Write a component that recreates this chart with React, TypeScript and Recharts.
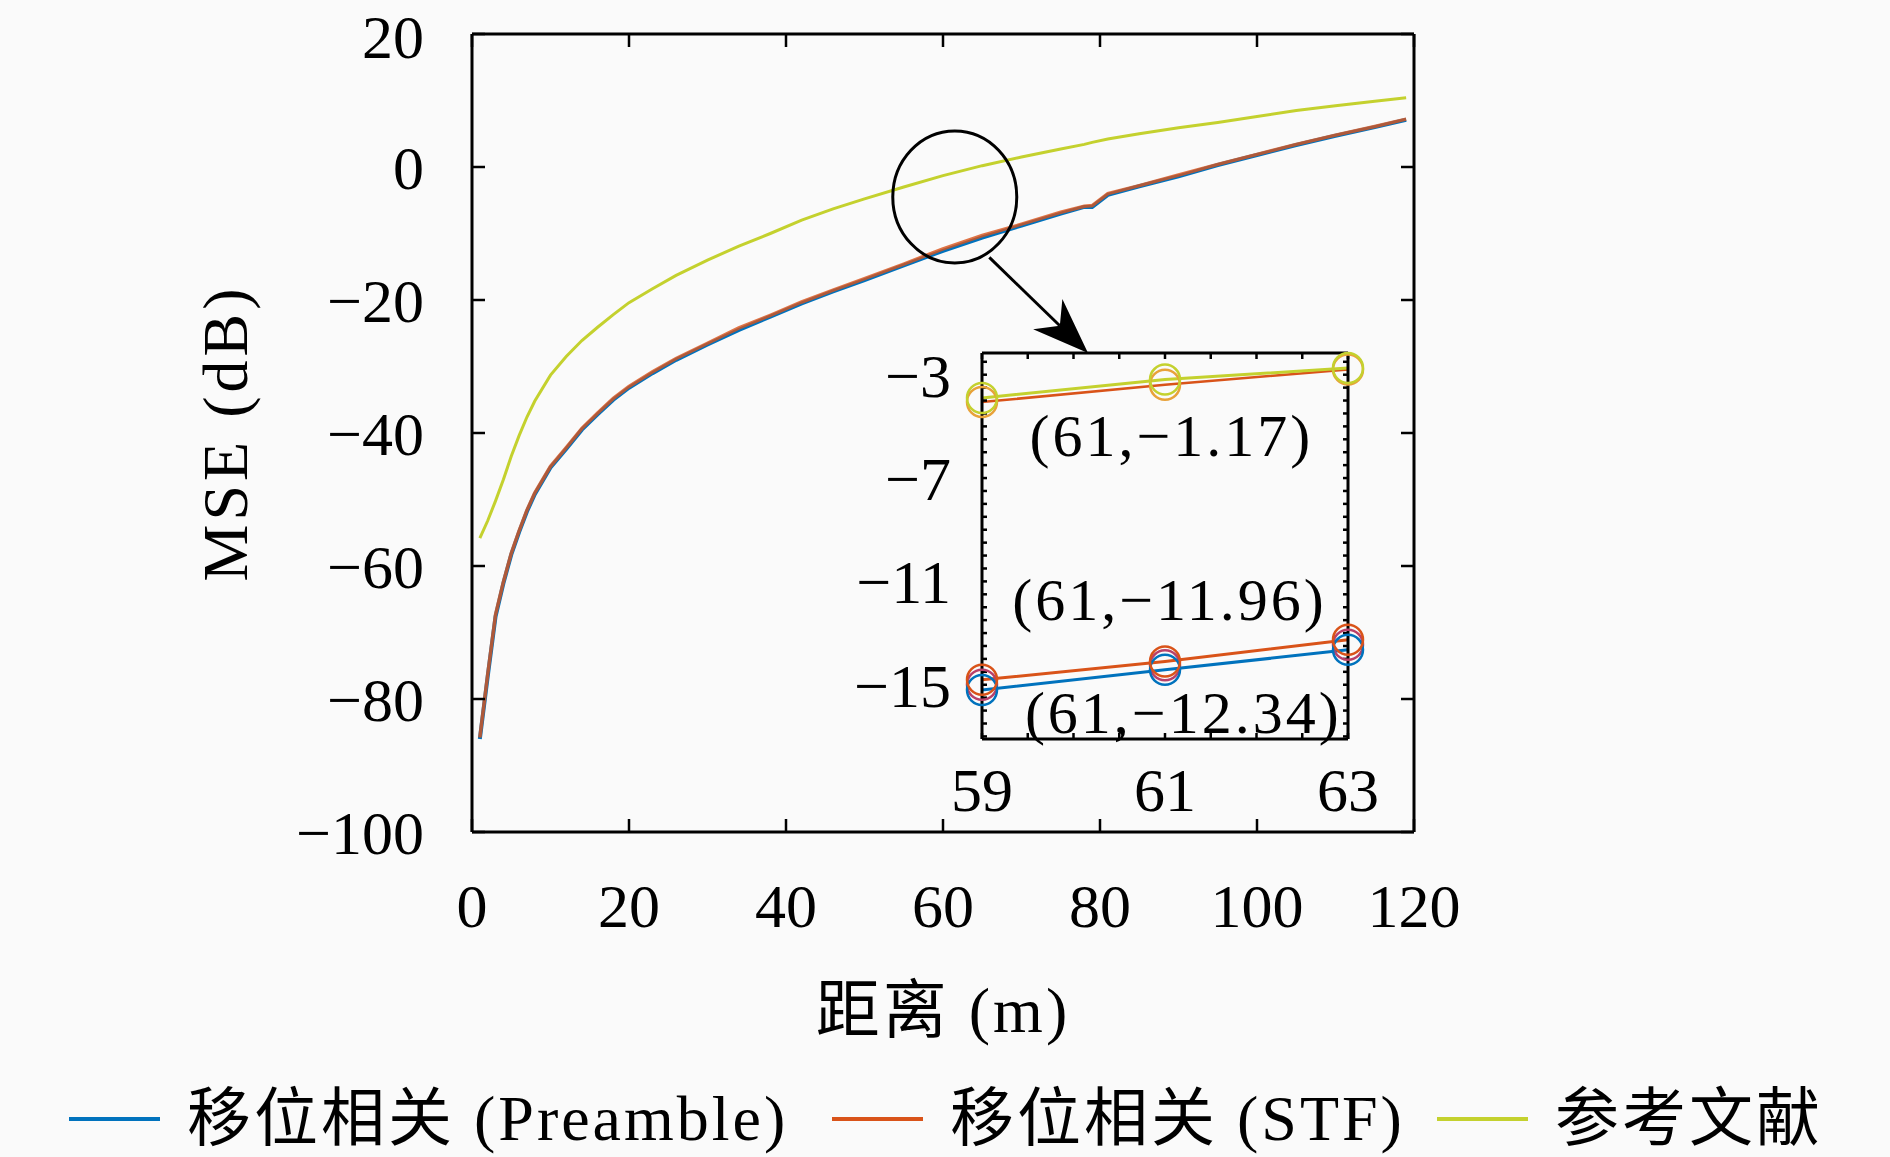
import React from 'react';
import { LineChart, Line, XAxis, YAxis, ReferenceDot, ReferenceLine, Label } from 'recharts';

// main plot: MSE (dB) against distance (m)
const distance = [1, 2, 3, 4, 5, 6, 7, 8, 10, 12, 14, 16, 18, 20, 23, 26, 30, 34, 38, 42, 46, 50, 55, 60, 65, 70, 75, 78, 79, 81, 85, 90, 95, 100, 105, 110, 115, 119];
const preambleMse = [-86.0, -76.6, -67.6, -62.6, -58.3, -54.9, -51.8, -49.2, -45.2, -42.4, -39.5, -37.2, -35.0, -33.2, -31.0, -29.0, -26.7, -24.5, -22.5, -20.5, -18.7, -17.0, -14.8, -12.6, -10.6, -8.8, -7.0, -6.0, -6.0, -4.2, -2.9, -1.4, 0.3, 1.8, 3.3, 4.7, 6.0, 7.1];
const stfMse = [-85.8, -76.3, -67.3, -62.4, -58.1, -54.7, -51.6, -49.0, -45.0, -42.2, -39.3, -37.0, -34.8, -33.0, -30.8, -28.8, -26.5, -24.2, -22.3, -20.3, -18.5, -16.8, -14.6, -12.3, -10.3, -8.6, -6.8, -5.9, -5.8, -4.0, -2.8, -1.2, 0.4, 1.9, 3.4, 4.8, 6.1, 7.2];
const referenceMse = [-55.8, -53.2, -50.2, -47.0, -43.5, -40.4, -37.6, -35.2, -31.3, -28.5, -26.1, -24.1, -22.2, -20.4, -18.3, -16.3, -14.0, -11.9, -10.0, -8.0, -6.3, -4.8, -3.0, -1.3, 0.2, 1.5, 2.7, 3.4, 3.7, 4.2, 5.0, 5.9, 6.7, 7.6, 8.5, 9.2, 9.9, 10.4];

const xTicks = [0, 20, 40, 60, 80, 100, 120];
const yTicks = [-100, -80, -60, -40, -20, 0, 20];

// zoomed inset around 59..63 m
const insetDistance = [59, 61, 63];
const insetPreamble = [-15.2, -14.42, -13.65];
const insetStf = [-14.81, -14.1, -13.26];
const insetReference = [-3.9, -3.19, -2.74];
const insetReferenceEcho = [-4.06, -3.39, -2.8];
const insetMixEcho = [-15.0, -14.25, -13.45];

const insetXTicks = [59, 59.5, 60, 60.5, 61, 61.5, 62, 62.5, 63];
const insetXLabels = [59, 61, 63];
const insetYTicks = [-17, -16.5, -16, -15.5, -15, -14.5, -14, -13.5, -13, -12.5, -12, -11.5, -11, -10.5, -10, -9.5, -9, -8.5, -8, -7.5, -7, -6.5, -6, -5.5, -5, -4.5, -4, -3.5, -3, -2.5];
const insetYLabels = [-3, -7, -11, -15];

const tipTexts = ['(61,\u22121.17)', '(61,\u221211.96)', '(61,\u221212.34)'];
const tipX = [61.07, 61.05, 61.2];
const tipY = [-5.36, -11.71, -16.11];

const legendNames = ['移位相关 (Preamble)', '移位相关 (STF)', '参考文献'];

const BLUE = '#0072BD';
const ORANGE = '#D95319';
const YELLOW = '#C4D12E';
const SERIF = "'Liberation Serif', 'Noto Sans CJK SC', serif";

const toMinus = (v: number) => String(v).replace('-', '\u2212');

const mainData = distance.map((d, i) => ({
  d,
  preamble: preambleMse[i],
  stf: stfMse[i],
  reference: referenceMse[i],
}));

const insetData = insetDistance.map((d, i) => ({
  d,
  preamble: insetPreamble[i],
  stf: insetStf[i],
  reference: insetReference[i],
  referenceEcho: insetReferenceEcho[i],
  mixEcho: insetMixEcho[i],
}));

const tickStyle = { fill: '#000', fontSize: 62, fontFamily: SERIF };
const axisLine = { stroke: '#000', strokeWidth: 3 };
const tickLine = { stroke: '#000', strokeWidth: 2.5 };
const noTick = () => <g />;

const ring = (color: string) => ({ r: 15, stroke: color, strokeWidth: 2.5, fill: 'none' });

const Arrow = (props: any) => {
  const { x1, y1, x2, y2 } = props;
  const ang = Math.atan2(y2 - y1, x2 - x1);
  const len = 56;
  const half = 21;
  const bx = x2 - len * Math.cos(ang);
  const by = y2 - len * Math.sin(ang);
  const nx = -Math.sin(ang);
  const ny = Math.cos(ang);
  const mx = x2 - len * 0.7 * Math.cos(ang);
  const my = y2 - len * 0.7 * Math.sin(ang);
  const pts = [
    [x2, y2],
    [bx + nx * half, by + ny * half],
    [mx, my],
    [bx - nx * half, by - ny * half],
  ].map((p) => p.join(',')).join(' ');
  return (
    <g>
      <line x1={x1} y1={y1} x2={mx} y2={my} stroke="#000" strokeWidth={3} />
      <polygon points={pts} fill="#000" />
    </g>
  );
};

const MainChart = () => (
  <LineChart width={1890} height={1157} data={mainData} margin={{ top: 33, right: 475, bottom: 0, left: 322 }}>
    <XAxis
      dataKey="d"
      type="number"
      domain={[0, 120]}
      allowDataOverflow
      ticks={xTicks}
      height={325}
      tickSize={-13}
      tickMargin={64}
      tick={tickStyle}
      axisLine={axisLine}
      tickLine={tickLine}
      tickFormatter={toMinus}
    >
      <Label
        content={(p: any) => {
          const vb = p.viewBox;
          return (
            <text x={vb.x + vb.width / 2} y={vb.y + 200} textAnchor="middle" fontSize={64} letterSpacing={3} fontFamily={SERIF} fill="#000">
              距离 (m)
            </text>
          );
        }}
      />
    </XAxis>
    <XAxis xAxisId="top" orientation="top" dataKey="d" type="number" domain={[0, 120]} allowDataOverflow ticks={xTicks} height={1} tickSize={-13} tick={noTick} axisLine={axisLine} tickLine={tickLine} />
    <YAxis
      type="number"
      domain={[-100, 20]}
      allowDataOverflow
      ticks={yTicks}
      width={150}
      tickSize={-13}
      tickMargin={61}
      tick={tickStyle}
      axisLine={axisLine}
      tickLine={tickLine}
      tickFormatter={toMinus}
    >
      <Label
        content={(p: any) => {
          const vb = p.viewBox;
          const cx = vb.x - 75;
          const cy = vb.y + vb.height / 2;
          return (
            <text x={cx} y={cy} transform={`rotate(-90, ${cx}, ${cy})`} textAnchor="middle" fontSize={64} letterSpacing={4} fontFamily={SERIF} fill="#000">
              MSE (dB)
            </text>
          );
        }}
      />
    </YAxis>
    <YAxis yAxisId="right" orientation="right" dataKey="preamble" type="number" domain={[-100, 20]} allowDataOverflow ticks={yTicks} width={1} tickSize={-13} tick={noTick} axisLine={axisLine} tickLine={tickLine} />
    <Line type="linear" dataKey="reference" stroke={YELLOW} strokeWidth={3} dot={false} isAnimationActive={false} />
    <Line type="linear" dataKey="preamble" stroke={BLUE} strokeWidth={4} dot={false} isAnimationActive={false} />
    <Line type="linear" dataKey="stf" stroke={ORANGE} strokeWidth={3.5} strokeOpacity={0.8} dot={false} isAnimationActive={false} />
    <ReferenceDot
      x={61.5}
      y={-4.5}
      r={1}
      shape={(p: any) => <ellipse cx={p.cx} cy={p.cy} rx={62} ry={66} fill="none" stroke="#000" strokeWidth={3} />}
    />
    <ReferenceLine segment={[{ x: 65.9, y: -13.6 }, { x: 78.47, y: -27.97 }]} shape={Arrow} />
  </LineChart>
);

const InsetChart = () => (
  <LineChart width={580} height={500} data={insetData} margin={{ top: 12, right: 71, bottom: 0, left: 42 }}>
    <XAxis
      dataKey="d"
      type="number"
      domain={[59, 63]}
      ticks={insetXTicks}
      height={101}
      tickSize={-6}
      tickMargin={34}
      tick={tickStyle}
      axisLine={axisLine}
      tickLine={tickLine}
      interval={0}
      tickFormatter={(v: number) => (insetXLabels.includes(v) ? String(v) : '')}
    />
    <XAxis xAxisId="top" orientation="top" dataKey="d" type="number" domain={[59, 63]} ticks={insetXTicks} height={1} tickSize={-6} tick={noTick} axisLine={axisLine} tickLine={tickLine} interval={0} />
    <YAxis
      type="number"
      domain={[-17.1, -2.16]}
      ticks={insetYTicks}
      width={100}
      tickSize={-5}
      tickMargin={36}
      tick={tickStyle}
      axisLine={axisLine}
      tickLine={tickLine}
      interval={0}
      tickFormatter={(v: number) => (insetYLabels.includes(v) ? toMinus(v) : '')}
    />
    <YAxis yAxisId="right" orientation="right" dataKey="stf" type="number" domain={[-17.1, -2.16]} ticks={insetYTicks} width={1} tickSize={-5} tick={noTick} axisLine={axisLine} tickLine={tickLine} interval={0} />
    <Line type="linear" dataKey="referenceEcho" stroke={ORANGE} strokeWidth={2.5} dot={ring('#E8A23A')} isAnimationActive={false} />
    <Line type="linear" dataKey="reference" stroke={YELLOW} strokeWidth={3} dot={ring(YELLOW)} isAnimationActive={false} />
    <Line type="linear" dataKey="mixEcho" stroke="#B8406A" strokeWidth={0} dot={ring('#B8406A')} isAnimationActive={false} />
    <Line type="linear" dataKey="preamble" stroke={BLUE} strokeWidth={3} dot={ring(BLUE)} isAnimationActive={false} />
    <Line type="linear" dataKey="stf" stroke={ORANGE} strokeWidth={3} dot={ring(ORANGE)} isAnimationActive={false} />
    {tipTexts.map((t, i) => (
      <ReferenceDot
        key={t}
        x={tipX[i]}
        y={tipY[i]}
        r={1}
        shape={(p: any) => (
          <text x={p.cx} y={p.cy} textAnchor="middle" dominantBaseline="central" fontSize={60} letterSpacing={3} fontFamily={SERIF} fill="#000">
            {t}
          </text>
        )}
      />
    ))}
  </LineChart>
);

const legendColors = [BLUE, ORANGE, YELLOW];
const legendLeft = [69, 832, 1437];

const App = () => (
  <div style={{ position: 'absolute', left: 0, top: 0, width: 1890, height: 1157, background: '#fafafa', overflow: 'hidden' }}>
    <div style={{ position: 'absolute', left: 0, top: 0 }}>
      <MainChart />
    </div>
    <div style={{ position: 'absolute', left: 840, top: 340 }}>
      <InsetChart />
    </div>
    {legendNames.map((name, i) => (
      <div
        key={name}
        style={{ position: 'absolute', left: legendLeft[i], top: 1083, height: 72, display: 'flex', alignItems: 'center', fontFamily: SERIF, fontSize: 64, lineHeight: 1, letterSpacing: 3, whiteSpace: 'nowrap', color: '#000' }}
      >
        <svg width={91} height={10} style={{ marginRight: 27 }}>
          <line x1={0} y1={5} x2={91} y2={5} stroke={legendColors[i]} strokeWidth={4} />
        </svg>
        <span style={{ lineHeight: 1 }}>{name}</span>
      </div>
    ))}
  </div>
);

export default App;
